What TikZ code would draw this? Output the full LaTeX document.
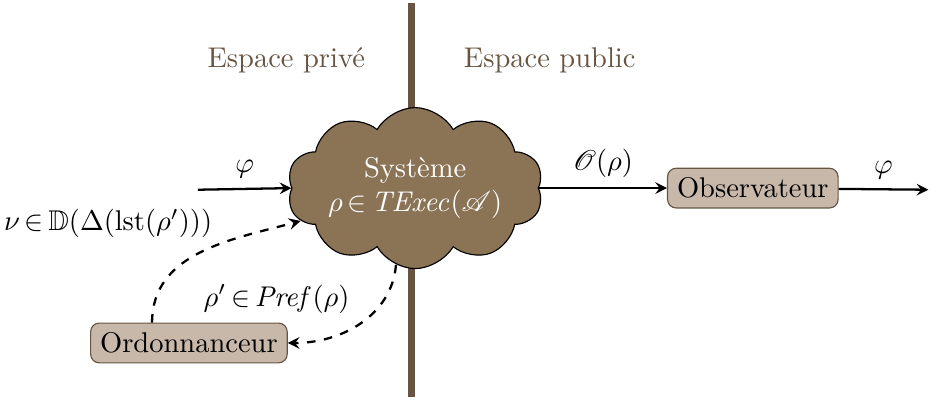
\documentclass[tikz,border=0pt]{standalone}
\usepackage{amsmath,amssymb}
\usepackage{mathrsfs}
\usepackage{xcolor}
\usepackage{tikz}
\usetikzlibrary{shapes,arrows,positioning,fit,backgrounds}

\definecolor{brunfonce}{HTML}{675542}
\definecolor{brun}{HTML}{8B7355}
\definecolor{brunclair}{HTML}{C8B8AA}

\begin{document}
\begin{tikzpicture}[
    box/.style={rectangle, draw=brunfonce, fill=brunclair, rounded corners=3pt, align=center},
    systeme/.style={cloud, cloud puffs=10, cloud puff arc=120, aspect=2, draw, fill=brun, text=white, minimum width=2.9cm, minimum height=1.5cm, align=center, inner sep=0pt},
    espace/.style={text=brunfonce},
    arrow/.style={->, >=stealth, thick},
    dasharrow/.style={->, >=stealth, thick, dashed}
]
    \useasboundingbox (0,0) rectangle (11.47,-4.97);

    % Wall
    \coordinate (murhaut) at (5.08,-0.04);
    \coordinate (murbas) at (5.08,-4.90);
    \draw[brunfonce, line width=2.5pt] (murhaut) -- (murbas);

    % Spaces
    \node[espace] (prive) at (3.53,-0.74) {Espace privé};
    \node[espace] (public) at (6.78,-0.74) {Espace public};

    % System and actors
    \node[systeme] (systeme) at (5.12,-2.32) {Système\\ $\rho\,{\in}\,\mathit{TExec}(\mathscr{A})$};
    \node[box, right=1.58cm of systeme] (observateur) {Observateur};
    \node[box] (ordonnanceur) at (2.33,-4.23) {Ordonnanceur};
    \coordinate (entree) at (2.44,-2.34);
    \coordinate (sortie) at (11.45,-2.34);

    % Arrows
    \draw[arrow] (entree) -- node[above] {$\varphi$} (systeme.west);
    \draw[arrow] (systeme.east) -- node[above] {$\mathscr{O}(\rho)$} (observateur);
    \draw[arrow] (observateur) -- node[above] {$\varphi$} (sortie);
    \draw[dasharrow] (ordonnanceur.151) to[out=90, in=195]
        node[pos=0.6, anchor=south east, inner sep=2pt] {$\nu\,{\in}\,\mathbb{D}(\Delta(\mathrm{lst}(\rho')))$} (systeme.196);
    \draw[dasharrow] (systeme.256) to[out=-95, in=0]
        node[pos=0.25, left=0.3cm] {$\rho'\,{\in}\,\mathit{Pref}(\rho)$} (ordonnanceur.east);

\end{tikzpicture}
\end{document}
